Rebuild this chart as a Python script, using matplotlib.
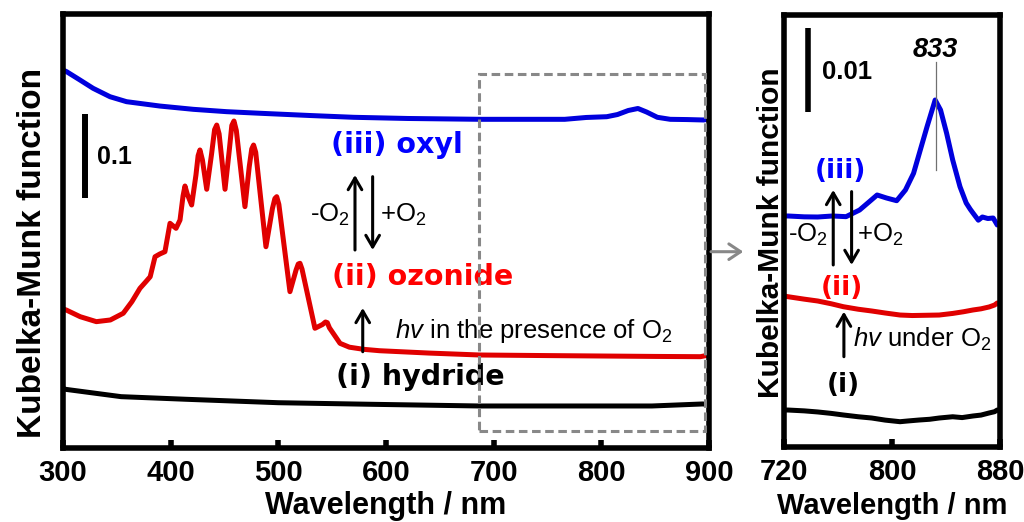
import matplotlib
matplotlib.use("Agg")
import matplotlib.pyplot as plt
from matplotlib.patches import Rectangle

plt.rcParams['font.family'] = ['Liberation Sans', 'DejaVu Sans']
plt.rcParams['mathtext.fontset'] = 'custom'
plt.rcParams['mathtext.rm'] = 'Liberation Sans'
plt.rcParams['mathtext.it'] = 'Liberation Sans:italic'
plt.rcParams['mathtext.bf'] = 'Liberation Sans:bold'

# ---------------- data: full range (left panel) ----------------
wl_hydride = [300, 302, 354, 414, 500, 587, 687, 760, 847, 894, 900]
km_hydride = [0.0714, 0.0699, 0.0611, 0.0580, 0.0539, 0.0520, 0.0500, 0.0500, 0.0500, 0.0524, 0.0518]

wl_ozonide = [300, 303, 316, 331, 344, 356, 364, 371.5, 377, 381, 385.5, 390, 394.7, 399.4, 405,
              408.7, 411.5, 413.3, 415.5, 419.5, 423.5, 425.5, 427.2, 429.5, 433.5, 438, 440.8,
              442.8, 445, 450.5, 454.5, 456.8, 458.8, 461, 469, 473, 475.3, 477, 479, 488.5,
              494.5, 496.8, 498.5, 500.5, 510.8, 516.5, 518.5, 520.1, 522, 534, 541, 543.8,
              545.5, 547.5, 557.3, 566, 579, 594, 640, 687, 750, 800, 850, 892, 900]
km_ozonide = [0.1655, 0.1643, 0.1563, 0.1504, 0.1524, 0.1604, 0.1742, 0.1901, 0.1980, 0.2039,
              0.2277, 0.2310, 0.2337, 0.2675, 0.2615, 0.2714, 0.3000, 0.3119, 0.3020, 0.2893,
              0.3250, 0.3480, 0.3548, 0.3430, 0.3080, 0.3500, 0.3790, 0.3845, 0.3740, 0.3080,
              0.3550, 0.3840, 0.3893, 0.3780, 0.2873, 0.3350, 0.3560, 0.3607, 0.3520, 0.2396,
              0.2850, 0.2970, 0.2992, 0.2900, 0.1861, 0.2120, 0.2190, 0.2199, 0.2130, 0.1425,
              0.1470, 0.1500, 0.1492, 0.1430, 0.1246, 0.1200, 0.1175, 0.1158, 0.1130, 0.1107,
              0.1100, 0.1095, 0.1090, 0.1087, 0.1107]

wl_oxyl = [300, 303.4, 315.8, 328, 343.7, 359, 390, 421, 452, 483, 530, 570, 620, 688, 766,
           786, 805, 815, 825, 834, 842, 852, 864, 880, 895, 900]
km_oxyl = [0.4500, 0.4480, 0.4381, 0.4282, 0.4182, 0.4123, 0.4071, 0.4032, 0.4004, 0.3985,
           0.3958, 0.3937, 0.3923, 0.3913, 0.3913, 0.3935, 0.3944, 0.3970, 0.4018, 0.4042,
           0.4000, 0.3937, 0.3913, 0.3910, 0.3905, 0.3917]

# ---------------- data: zoomed range (right panel) ----------------
wl_z_oxyl = [720, 723, 735, 745, 756, 766, 776, 783, 789, 796, 803.5, 810, 816, 821, 826, 832,
             836, 840.5, 845, 850.4, 855, 858, 860, 864, 867, 871, 875, 878, 880]
km_z_oxyl = [0.0275, 0.0275, 0.0274, 0.02738, 0.0275, 0.02742, 0.02821, 0.02917, 0.0300,
             0.02964, 0.02932, 0.0306, 0.03258, 0.03536, 0.03813, 0.04131, 0.04012, 0.03735,
             0.03417, 0.03099, 0.02905, 0.0283, 0.02786, 0.0270, 0.02738, 0.0272, 0.02726,
             0.02643, 0.02655]

wl_z_ozonide = [720, 723, 735, 745, 755, 764, 775, 785, 795, 806, 815, 825, 835, 845, 853,
                860, 866, 872, 876, 878, 880]
km_z_ozonide = [0.01798, 0.01789, 0.01760, 0.01738, 0.01705, 0.0167, 0.01640, 0.01619, 0.01595,
                0.01571, 0.01565, 0.01568, 0.01571, 0.01590, 0.01610, 0.01631, 0.01645, 0.01667,
                0.01690, 0.01714, 0.01690]

wl_z_hydride = [720, 723, 735, 745, 755, 764, 775, 785, 795, 806, 812, 820, 828, 835, 845, 852,
                860, 866, 872, 876, 878, 880]
km_z_hydride = [0.0044, 0.0044, 0.0043, 0.00417, 0.0040, 0.00381, 0.0036, 0.00345, 0.0032,
                0.00301, 0.0031, 0.00321, 0.0033, 0.00345, 0.0036, 0.0035, 0.00369, 0.0038,
                0.00405, 0.0042, 0.0044, 0.00429]

ticks_left = [300, 400, 500, 600, 700, 800, 900]
ticks_right = [720, 800, 880]

C_BLUE_LINE = '#0000DD'
C_RED_LINE = '#E00000'
C_BLUE_TXT = '#0000FF'
C_RED_TXT = '#FF0000'
C_GRAY = '#888888'

fig = plt.figure(figsize=(10.24, 5.22), dpi=100)
axL = fig.add_axes([0.0615, 0.1418, 0.6309, 0.8314])
axR = fig.add_axes([0.7656, 0.1437, 0.2109, 0.8276])

line_kw = dict(lw=3.6, solid_joinstyle='round', solid_capstyle='round')

axL.plot(wl_hydride, km_hydride, color='black', **line_kw)
axL.plot(wl_ozonide, km_ozonide, color=C_RED_LINE, **line_kw)
axL.plot(wl_oxyl, km_oxyl, color=C_BLUE_LINE, **line_kw)

axR.plot(wl_z_hydride, km_z_hydride, color='black', **line_kw)
axR.plot(wl_z_ozonide, km_z_ozonide, color=C_RED_LINE, **line_kw)
axR.plot(wl_z_oxyl, km_z_oxyl, color=C_BLUE_LINE, **line_kw)

for ax, xl, ticks, lsize, ylsize in ((axL, (300, 900), ticks_left, 22, 24),
                                     (axR, (720, 880), ticks_right, 21, 21.5)):
    ax.set_xlim(*xl)
    ax.set_xticks(ticks, [str(t) for t in ticks], fontweight='bold')
    ax.set_yticks([])
    ax.tick_params(axis='x', direction='in', length=6, width=4, labelsize=21, pad=8)
    for s in ax.spines.values():
        s.set_linewidth(4)
    ax.set_xlabel('Wavelength / nm', fontsize=lsize, fontweight='bold', va='center')
    ax.set_ylabel('Kubelka-Munk function', fontsize=ylsize, fontweight='bold', va='center')

axL.set_ylim(0, 0.5167)
axR.set_ylim(0, 0.05143)
axL.xaxis.set_label_coords(0.5, -0.1336)
axR.xaxis.set_label_coords(0.5, -0.1366)
axL.yaxis.set_label_coords(-0.047, 0.449)
axR.yaxis.set_label_coords(-0.062, 0.495)

arrow_kw = dict(arrowstyle='->,head_length=0.6,head_width=0.35', lw=2.2, color='black',
                shrinkA=0, shrinkB=0, mutation_scale=14)

# ---- left panel annotations ----
axL.plot([320.4, 320.4], [0.2976, 0.3976], color='black', lw=4.3, solid_capstyle='butt')
axL.text(331.6, 0.3464, '0.1', fontsize=18, fontweight='bold', va='center', ha='left')

state_kw = dict(family='DejaVu Sans', fontweight='bold', ha='center', va='center')
axL.text(610.2, 0.3607, '(iii) oxyl', color=C_BLUE_TXT, fontsize=20.5, **state_kw)
axL.text(633.9, 0.2039, '(ii) ozonide', color=C_RED_TXT, fontsize=20.5, **state_kw)
axL.text(632.0, 0.0851, '(i) hydride', color='black', fontsize=20.5, **state_kw)

axL.annotate('', xy=(571.2, 0.325), xytext=(571.2, 0.2357), arrowprops=arrow_kw)
axL.annotate('', xy=(587.6, 0.2357), xytext=(587.6, 0.323), arrowprops=arrow_kw)
axL.annotate('', xy=(578.4, 0.1667), xytext=(578.4, 0.1146), arrowprops=arrow_kw)
axL.text(566.6, 0.2694, '-O$_2$', fontsize=18.5, ha='right', va='baseline')
axL.text(594.4, 0.2694, '+O$_2$', fontsize=18.5, ha='left', va='baseline')
axL.text(608.4, 0.1306, '$hv$ in the presence of O$_2$', fontsize=18.5, ha='left', va='baseline')

axL.add_patch(Rectangle((686.4, 0.0202), 896.3 - 686.4, 0.445 - 0.0202, fill=False,
                        edgecolor=C_GRAY, lw=2.2, linestyle=(0, (2.8, 1.5)), zorder=5))

# ---- right panel annotations ----
axR.plot([737.8, 737.8], [0.03988, 0.04988], color='black', lw=4.0, solid_capstyle='butt')
axR.text(747.9, 0.04464, '0.01', fontsize=18.5, fontweight='bold', va='center', ha='left')
axR.text(832.5, 0.04726, '833', fontsize=19.5, fontweight='bold', style='italic',
         ha='center', va='center')
axR.plot([832.5, 832.5], [0.03298, 0.04583], color='#707070', lw=0.9)

axR.text(761.5, 0.03286, '(iii)', color=C_BLUE_TXT, fontsize=19, **state_kw)
axR.text(762.7, 0.01893, '(ii)', color=C_RED_TXT, fontsize=19, **state_kw)
axR.text(763.7, 0.00738, '(i)', color='black', fontsize=19, **state_kw)

axR.annotate('', xy=(756.5, 0.0306), xytext=(756.5, 0.02167), arrowprops=arrow_kw)
axR.annotate('', xy=(770.1, 0.02167), xytext=(770.1, 0.0304), arrowprops=arrow_kw)
axR.annotate('', xy=(764.4, 0.01611), xytext=(764.4, 0.01075), arrowprops=arrow_kw)
axR.text(752.6, 0.02444, '-O$_2$', fontsize=18.5, ha='right', va='baseline')
axR.text(773.8, 0.02444, '+O$_2$', fontsize=18.5, ha='left', va='baseline')
axR.text(771.1, 0.01194, '$hv$ under O$_2$', fontsize=18.5, ha='left', va='baseline')

# ---- gray arrow linking the panels ----
fig.add_artist(matplotlib.patches.FancyArrowPatch(
    (711 / 1024, 1 - 251.7 / 522), (743.3 / 1024, 1 - 251.7 / 522),
    transform=fig.transFigure, arrowstyle='->,head_length=0.6,head_width=0.4',
    mutation_scale=14, lw=2.2, color=C_GRAY, shrinkA=0, shrinkB=0))

fig.savefig('out.png', dpi=100)
